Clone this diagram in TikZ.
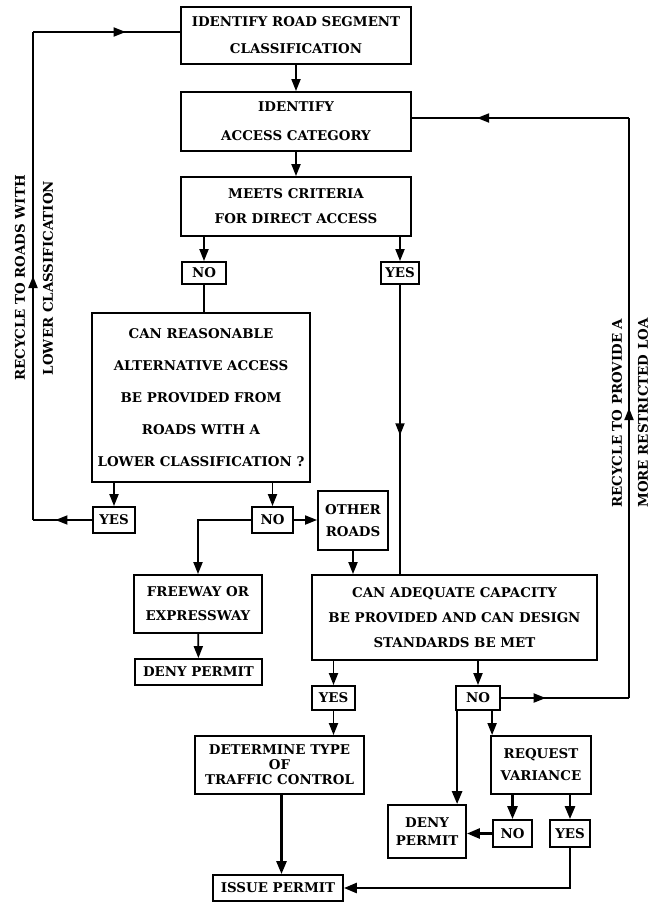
\documentclass[tikz,border=0pt]{standalone}
\usepackage{fontspec}
\setmainfont{DejaVu Serif}
\usetikzlibrary{
  arrows.meta,
  positioning,
  calc,
  decorations.markings
}
\tikzset{
  blk/.style={
    draw, line width=1.8pt, inner sep=0pt, align=center,
    font=\bfseries\fontsize{13.4}{#1}\selectfont
  },
  blk/.default=26,
  vlabel/.style={rotate=90, inner sep=0pt, font=\bfseries\fontsize{13.4}{18}\selectfont},
  line/.style={line width=1.8pt},
  flow/.style={-{Triangle[length=12pt,width=9pt]}, line width=1.8pt},
  heavy/.style={-{Triangle[length=13pt,width=10pt]}, line width=2.6pt},
  arrowat/.style={postaction={decorate, decoration={markings,
    mark=at position #1 with {\arrow{Triangle[length=12pt,width=9pt]}}}}}
}
\begin{document}
\begin{tikzpicture}[x=1pt, y=-1pt]
  \useasboundingbox (0,0) rectangle (656,902);

  % main column
  \node[blk=27, minimum width=230pt, minimum height=57pt] (seg) at (296,35.5) {IDENTIFY ROAD SEGMENT\\CLASSIFICATION};
  \node[blk=29, minimum width=230pt, minimum height=59pt] (cat) at (296,121.5) {IDENTIFY\\ACCESS CATEGORY};
  \node[blk=25, minimum width=230pt, minimum height=59pt] (crit) at (296,206.5) {MEETS CRITERIA\\FOR DIRECT ACCESS};
  \node[blk, minimum width=44pt, minimum height=22pt] (no1) at (204,273) {NO};
  \node[blk, minimum width=38pt, minimum height=22pt] (yes1) at (400,273) {YES};

  \node[blk=32, minimum width=218pt, minimum height=169pt] (alt) at (201,397.5)
    {CAN REASONABLE\\ALTERNATIVE ACCESS\\BE PROVIDED FROM\\ROADS WITH A\\LOWER CLASSIFICATION ?};
  \node[blk, minimum width=42pt, minimum height=26pt] (yes2) at (114,520) {YES};
  \node[blk, minimum width=41pt, minimum height=26pt] (no2) at (272.5,520) {NO};
  \node[blk=22, minimum width=70pt, minimum height=59pt] (other) at (353,520.5) {OTHER\\ROADS};

  \node[blk=24, minimum width=128pt, minimum height=58pt] (free) at (198,604) {FREEWAY OR\\EXPRESSWAY};
  \node[blk, minimum width=127pt, minimum height=26pt] (deny1) at (198.5,672) {DENY PERMIT};

  \node[blk=25, minimum width=285pt, minimum height=85pt] (cap) at (454.5,617.5)
    {CAN ADEQUATE CAPACITY\\BE PROVIDED AND CAN DESIGN\\STANDARDS BE MET};
  \node[blk, minimum width=43pt, minimum height=24pt] (yes3) at (333.5,698) {YES};
  \node[blk, minimum width=44pt, minimum height=24pt] (no3) at (478,698) {NO};

  \node[blk=15, minimum width=169pt, minimum height=58pt] (det) at (279.5,765) {DETERMINE TYPE\\OF\\TRAFFIC CONTROL};
  \node[blk, minimum width=130pt, minimum height=26pt] (issue) at (278,888) {ISSUE PERMIT};

  \node[blk=22, minimum width=100pt, minimum height=58pt] (req) at (541,765) {REQUEST\\VARIANCE};
  \node[blk=18, minimum width=78pt, minimum height=53pt] (deny2) at (427,831.5) {DENY\\PERMIT};
  \node[blk, minimum width=39pt, minimum height=27pt] (no4) at (512.5,833.5) {NO};
  \node[blk, minimum width=40pt, minimum height=27pt] (yes4) at (570,833.5) {YES};

  % recycle labels
  \node[vlabel] (lblA) at (20,278) {RECYCLE TO ROADS WITH};
  \node[vlabel] (lblB) at (48,278) {LOWER CLASSIFICATION};
  \node[vlabel] (lblC) at (617,413) {RECYCLE TO PROVIDE A};
  \node[vlabel] (lblD) at (643,413) {MORE RESTRICTED LOA};

  \coordinate (lc) at (33,32);
  \coordinate (rc) at (629,118);

  % connectors
  \draw[flow] (seg) -- (cat);
  \draw[flow] (cat) -- (crit);
  \draw[flow] (crit.south -| no1) -- (no1.north);
  \draw[flow] (crit.south -| yes1) -- (yes1.north);
  \draw[line] (no1.south) -- (no1.south |- alt.north);
  \draw[line, arrowat=0.52] (yes1.south) -- (yes1.south |- cap.north);
  \draw[flow] (alt.south -| yes2) -- (yes2.north);
  \draw[flow] (alt.south -| no2) -- (no2.north);

  \draw[line, arrowat=0.62] (yes2.west) -- (yes2.west -| lc);
  \draw[line, arrowat=0.5] (yes2.west -| lc) -- (lc);
  \draw[line, arrowat=0.63] (lc) -- (lc -| seg.west);

  \draw[flow] (no2.east) -- (no2.east -| other.west);
  \draw[flow] (no2.west) -| (free.north);
  \draw[flow] (free) -- (deny1);
  \draw[flow] (other.south) -- (other.south |- cap.north);

  \draw[flow] (cap.south -| yes3) -- (yes3.north);
  \draw[flow] (cap.south -| no3) -- (no3.north);
  \draw[flow] (yes3.south) -- (yes3.south |- det.north);
  \draw[heavy] ([xshift=2pt]det.south) -- ([xshift=2pt]det.south |- issue.north);

  \draw[line, arrowat=0.35] (no3.east) -- (no3.east -| rc);
  \draw[line, arrowat=0.5] (no3.east -| rc) -- (rc);
  \draw[line, arrowat=0.7] (rc) -- (rc -| cat.east);

  \draw[heavy] ([xshift=2pt]no3.south west) -- ([xshift=2pt]no3.south west |- deny2.north);
  \draw[flow] ([xshift=2pt]req.north west |- no3.south) -- ([xshift=2pt]req.north west);
  \draw[heavy] (req.south -| no4) -- (no4.north);
  \draw[heavy] (req.south -| yes4) -- (yes4.north);
  \draw[heavy] (no4.west) -- (no4.west -| deny2.east);
  \draw[heavy] (yes4.south) |- (issue.east);
\end{tikzpicture}
\end{document}
